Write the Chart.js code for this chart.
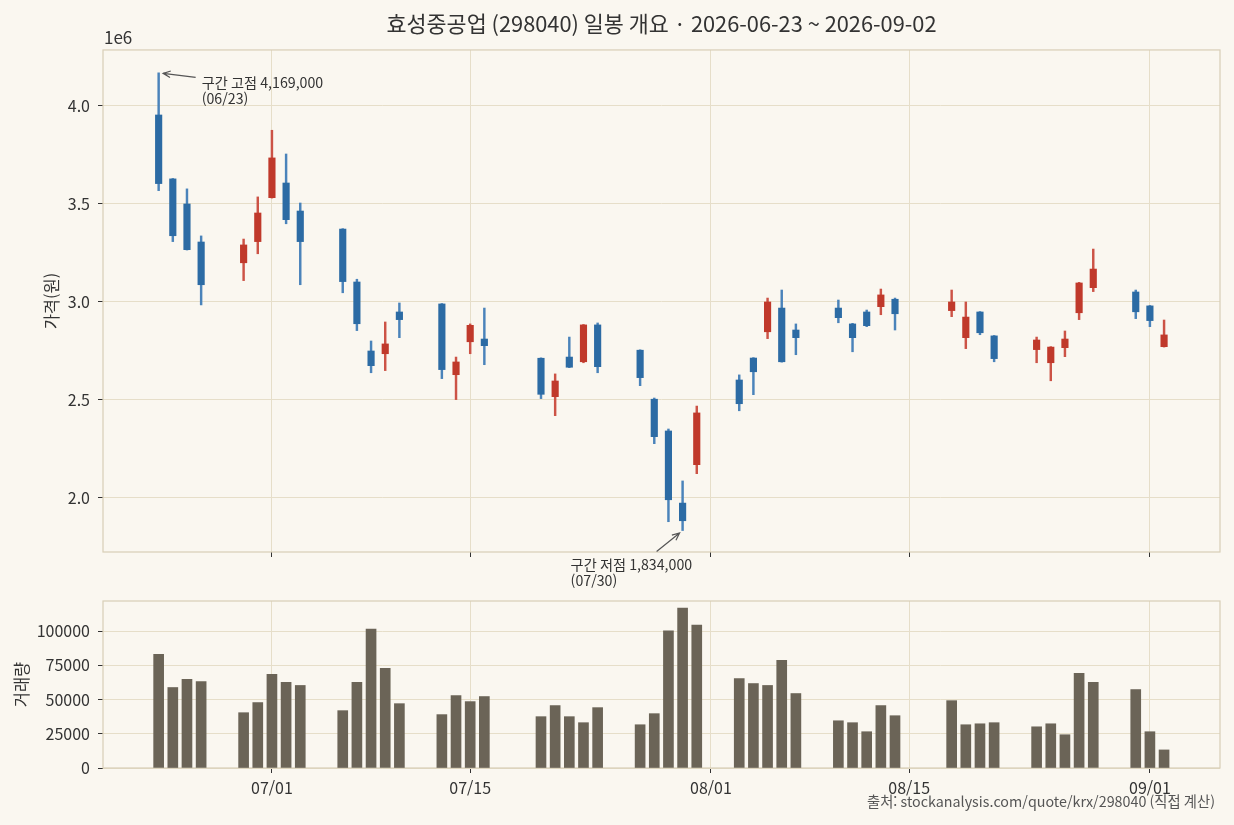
<!DOCTYPE html>
<html lang="ko">
<head>
<meta charset="utf-8">
<script src="https://cdn.jsdelivr.net/npm/chart.js@4.4.1/dist/chart.umd.min.js"></script>
<style>
  html, body { margin: 0; padding: 0; background: #faf7f0; }
  body { width: 1234px; height: 825px; position: relative; overflow: hidden; }
  .panel { position: absolute; left: 0; width: 1234px; }
  #price-wrap { top: 0; height: 600px; }
  #vol-wrap { top: 580px; height: 245px; }
</style>
</head>
<body>
<div class="panel" id="price-wrap"><canvas id="chart-price"></canvas></div>
<div class="panel" id="vol-wrap"><canvas id="chart-volume"></canvas></div>
<script>
// Daily OHLC + volume (won)
const dates = [
  '2026-06-23', '2026-06-24', '2026-06-25', '2026-06-26',
  '2026-06-29', '2026-06-30', '2026-07-01', '2026-07-02', '2026-07-03',
  '2026-07-06', '2026-07-07', '2026-07-08', '2026-07-09', '2026-07-10',
  '2026-07-13', '2026-07-14', '2026-07-15', '2026-07-16',
  '2026-07-20', '2026-07-21', '2026-07-22', '2026-07-23', '2026-07-24',
  '2026-07-27', '2026-07-28', '2026-07-29', '2026-07-30', '2026-07-31',
  '2026-08-03', '2026-08-04', '2026-08-05', '2026-08-06', '2026-08-07',
  '2026-08-10', '2026-08-11', '2026-08-12', '2026-08-13', '2026-08-14',
  '2026-08-18', '2026-08-19', '2026-08-20', '2026-08-21',
  '2026-08-24', '2026-08-25', '2026-08-26', '2026-08-27', '2026-08-28',
  '2026-08-31', '2026-09-01', '2026-09-02',
];
const opens = [
  3954000, 3628000, 3500000, 3306000,
  3200000, 3308000, 3532000, 3607000, 3464000,
  3372000, 3102000, 2750000, 2736000, 2949000,
  2990000, 2629000, 2797000, 2811000,
  2713000, 2517000, 2719000, 2695000, 2883000,
  2754000, 2504000, 2342000, 1974000, 2170000,
  2602000, 2714000, 2848000, 2969000, 2857000,
  2969000, 2888000, 2949000, 2976000, 3014000,
  2956000, 2818000, 2949000, 2827000,
  2757000, 2690000, 2767000, 2945000, 3073000,
  3051000, 2980000, 2772000,
];
const highs = [
  4169000, 3630000, 3577000, 3337000,
  3321000, 3536000, 3876000, 3755000, 3505000,
  3374000, 3116000, 2801000, 2898000, 2995000,
  2992000, 2719000, 2888000, 2969000,
  2715000, 2633000, 2821000, 2885000, 2893000,
  2756000, 2510000, 2352000, 2087000, 2469000,
  2628000, 2716000, 3020000, 3061000, 2888000,
  3010000, 2891000, 2959000, 3066000, 3020000,
  3061000, 3000000, 2951000, 2829000,
  2821000, 2772000, 2852000, 3100000, 3270000,
  3061000, 2982000, 2908000,
];
const lows = [
  3568000, 3308000, 3265000, 2985000,
  3109000, 3246000, 3530000, 3399000, 3088000,
  3047000, 2854000, 2639000, 2650000, 2818000,
  2609000, 2502000, 2736000, 2680000,
  2507000, 2420000, 2665000, 2690000, 2639000,
  2573000, 2277000, 1879000, 1834000, 2124000,
  2445000, 2527000, 2813000, 2693000, 2731000,
  2894000, 2746000, 2874000, 2935000, 2857000,
  2925000, 2762000, 2833000, 2695000,
  2690000, 2598000, 2721000, 2910000, 3053000,
  2915000, 2874000, 2770000,
];
const closes = [
  3604000, 3338000, 3267000, 3088000,
  3291000, 3454000, 3735000, 3420000, 3308000,
  3104000, 2889000, 2675000, 2786000, 2910000,
  2655000, 2694000, 2881000, 2777000,
  2529000, 2597000, 2667000, 2883000, 2670000,
  2614000, 2313000, 1991000, 1884000, 2434000,
  2481000, 2644000, 3000000, 2695000, 2818000,
  2920000, 2818000, 2879000, 3036000, 2940000,
  3000000, 2923000, 2843000, 2711000,
  2806000, 2770000, 2811000, 3097000, 3168000,
  2950000, 2905000, 2832000,
];
const volumes = [
  83000, 58800, 64700, 63200,
  40400, 47800, 68400, 62500, 60300,
  41900, 62500, 101400, 72800, 47000,
  39000, 52900, 48500, 52200,
  37500, 45600, 37500, 33100, 44100,
  31600, 39700, 100200, 116900, 104400,
  65400, 61700, 60300, 78600, 54400,
  34500, 33100, 26500, 45600, 38200,
  49200, 31600, 32300, 33100,
  30100, 32300, 24300, 69100, 62500,
  57300, 26500, 13200,
];

const xTickDates  = ['2026-07-01', '2026-07-15', '2026-08-01', '2026-08-15', '2026-09-01'];
const xTickLabels = ['07/01', '07/15', '08/01', '08/15', '09/01'];
const priceTicks  = [2000000, 2500000, 3000000, 3500000, 4000000];
const volumeTicks = [0, 25000, 50000, 75000, 100000];

const TITLE_TEXT  = '효성중공업 (298040) 일봉 개요 · 2026-06-23 ~ 2026-09-02';
const SOURCE_TEXT = '출처: stockanalysis.com/quote/krx/298040 (직접 계산)';

// Look
const FONT      = "'Noto Sans CJK KR', 'Noto Sans', sans-serif";
const TEXT      = '#333333';
const GRID      = '#e6dec9';
const FRAME     = '#d8ceb6';
const UP_BODY   = '#c0392b';
const UP_WICK   = '#cc5346';
const DOWN_BODY = '#2c6ba4';
const DOWN_WICK = '#4a83ba';
const VOL_COLOR = '#6b6457';
const TICK_SIZE = 16;

Chart.defaults.font.family = FONT;
Chart.defaults.color       = TEXT;
Chart.defaults.animation   = false;

// x is "days since first date" so weekend gaps stay visible
const DAY = 86400000;
const dayOf = d => (Date.parse(d + 'T00:00:00Z') - Date.parse(dates[0] + 'T00:00:00Z')) / DAY;
const xs        = dates.map(dayOf);
const xTickVals = xTickDates.map(dayOf);
const X_MIN = -3.93, X_MAX = 74.95;

const isUp = closes.map((c, i) => c >= opens[i]);

function xAxis(showLabels, height) {
  return {
    type:   'linear',
    min:    X_MIN,
    max:    X_MAX,
    offset: false,
    afterBuildTicks: s => { s.ticks = xTickVals.map(v => ({ value: v })); },
    afterFit:        s => { s.height = height; },
    grid:   { color: GRID, tickColor: TEXT, tickLength: 5, offset: false },
    border: { display: false },
    ticks: {
      display:     showLabels,
      autoSkip:    false,
      maxRotation: 0,
      padding:     5,
      font:        { size: TICK_SIZE },
      callback:    (v, i) => xTickLabels[i],
    },
  };
}

const framePlugin = {
  id: 'frame',
  beforeDatasetsDraw(chart) {
    const { ctx, chartArea: { left, top, right, bottom } } = chart;
    ctx.save();
    ctx.strokeStyle = FRAME;
    ctx.lineWidth   = 1.2;
    ctx.strokeRect(left, top, right - left, bottom - top);
    ctx.restore();
  },
};

function arrow(ctx, x1, y1, x2, y2) {
  const a = Math.atan2(y2 - y1, x2 - x1), h = 8, w = 0.42;
  ctx.beginPath();
  ctx.moveTo(x1, y1);
  ctx.lineTo(x2, y2);
  ctx.moveTo(x2 - h * Math.cos(a - w), y2 - h * Math.sin(a - w));
  ctx.lineTo(x2, y2);
  ctx.lineTo(x2 - h * Math.cos(a + w), y2 - h * Math.sin(a + w));
  ctx.stroke();
}

const mmdd = d => d.slice(5).replace('-', '/');

const priceExtrasPlugin = {
  id: 'priceExtras',
  afterDraw(chart) {
    const { ctx, chartArea, scales: { x, y } } = chart;
    ctx.save();
    // exponent label
    ctx.fillStyle    = TEXT;
    ctx.font         = `17px ${FONT}`;
    ctx.textAlign    = 'left';
    ctx.textBaseline = 'middle';
    ctx.fillText('1e6', chartArea.left + 1, chartArea.top - 12);

    // range high / low notes
    const iHi = highs.indexOf(Math.max(...highs));
    const iLo = lows.indexOf(Math.min(...lows));
    const hx = x.getPixelForValue(xs[iHi]), hy = y.getPixelForValue(highs[iHi]);
    const lx = x.getPixelForValue(xs[iLo]), ly = y.getPixelForValue(lows[iLo]);

    ctx.strokeStyle = '#555555';
    ctx.lineWidth   = 1.2;
    arrow(ctx, hx + 37, hy + 4.5, hx + 4.5, hy + 0.5);
    arrow(ctx, lx - 26, ly + 21, lx - 3, ly + 2.5);

    ctx.fillStyle = TEXT;
    ctx.font      = `14.2px ${FONT}`;
    ctx.fillText(`구간 고점 ${highs[iHi].toLocaleString('en-US')}`, hx + 43, hy + 9.5);
    ctx.fillText(`(${mmdd(dates[iHi])})`, hx + 43, hy + 25.5);
    ctx.fillText(`구간 저점 ${lows[iLo].toLocaleString('en-US')}`, lx - 112, ly + 34);
    ctx.fillText(`(${mmdd(dates[iLo])})`, lx - 112, ly + 50);
    ctx.restore();
  },
};

const sourcePlugin = {
  id: 'sourceNote',
  afterDraw(chart) {
    const { ctx, chartArea } = chart;
    ctx.save();
    ctx.fillStyle    = '#555555';
    ctx.font         = `14.3px ${FONT}`;
    ctx.textAlign    = 'right';
    ctx.textBaseline = 'middle';
    ctx.fillText(SOURCE_TEXT, chartArea.right - 5, 222);
    ctx.restore();
  },
};

const priceChart = new Chart(document.getElementById('chart-price'), {
  type: 'bar',
  data: {
    datasets: [
      {
        label:           'body',
        order:           0,
        data:            xs.map((d, i) => ({ x: d, y: [opens[i], closes[i]] })),
        backgroundColor: isUp.map(u => u ? UP_BODY : DOWN_BODY),
        barThickness:    6.5,
        grouped:         false,
      },
      {
        label:           'wick',
        order:           1,
        data:            xs.map((d, i) => ({ x: d, y: [lows[i], highs[i]] })),
        backgroundColor: isUp.map(u => u ? UP_WICK : DOWN_WICK),
        barThickness:    1.8,
        grouped:         false,
      },
    ],
  },
  plugins: [framePlugin, priceExtrasPlugin],
  options: {
    responsive:          true,
    maintainAspectRatio: false,
    layout: { padding: { left: 0, right: 14, top: 0, bottom: 0 } },
    plugins: {
      legend:  { display: false },
      tooltip: { enabled: false },
      title: {
        display:  true,
        text:     TITLE_TEXT,
        fullSize: false,
        color:    TEXT,
        font:     { size: 21.8, weight: 'normal' },
        padding:  { top: 11, bottom: 12.8 },
      },
    },
    scales: {
      x: xAxis(false, 48),
      y: {
        min: 1724500,
        max: 4285700,
        afterBuildTicks: s => { s.ticks = priceTicks.map(v => ({ value: v })); },
        afterFit:        s => { s.width = 103; },
        grid:   { color: GRID, tickColor: TEXT, tickLength: 5 },
        border: { display: false },
        ticks:  { padding: 8, font: { size: TICK_SIZE }, callback: v => (v / 1e6).toFixed(1) },
        title:  { display: true, text: '가격(원)', color: TEXT, font: { size: 16.5 }, padding: { top: 42, bottom: 0 } },
      },
    },
  },
});

const volumeChart = new Chart(document.getElementById('chart-volume'), {
  type: 'bar',
  data: {
    datasets: [{
      label:           '거래량',
      data:            xs.map((d, i) => ({ x: d, y: volumes[i] })),
      backgroundColor: VOL_COLOR,
      barThickness:    10,
      grouped:         false,
    }],
  },
  plugins: [framePlugin, sourcePlugin],
  options: {
    responsive:          true,
    maintainAspectRatio: false,
    layout: { padding: { left: 0, right: 14, top: 21, bottom: 0 } },
    plugins: {
      legend:  { display: false },
      tooltip: { enabled: false },
    },
    scales: {
      x: xAxis(true, 57),
      y: {
        min: 0,
        max: 122000,
        afterBuildTicks: s => { s.ticks = volumeTicks.map(v => ({ value: v })); },
        afterFit:        s => { s.width = 103; },
        grid:   { color: GRID, tickColor: TEXT, tickLength: 5 },
        border: { display: false },
        ticks:  { padding: 8, font: { size: TICK_SIZE }, callback: v => String(v) },
        title:  { display: true, text: '거래량', color: TEXT, font: { size: 16.5 }, padding: { top: 12, bottom: 0 } },
      },
    },
  },
});
</script>
</body>
</html>
